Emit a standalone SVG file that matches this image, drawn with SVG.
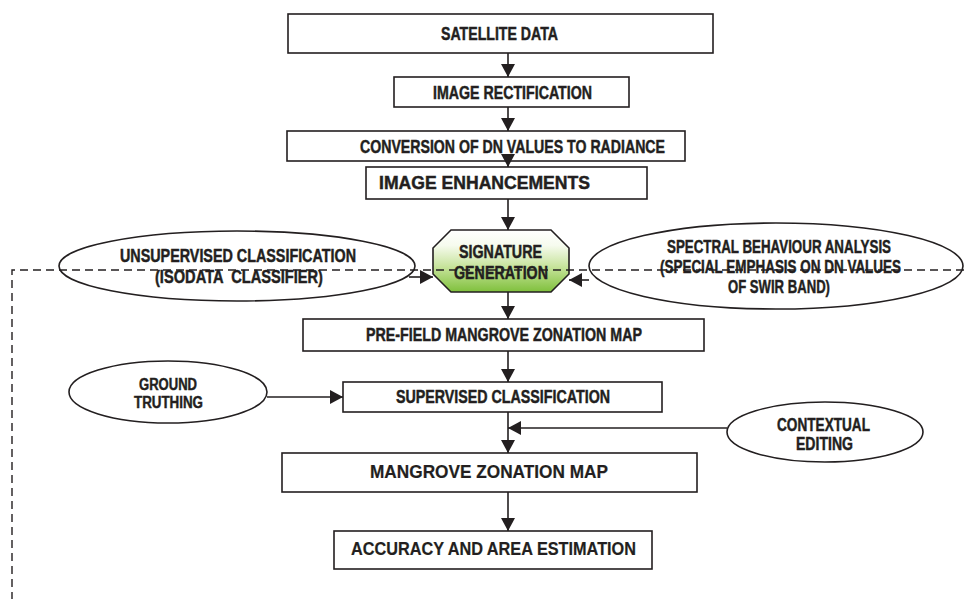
<svg xmlns="http://www.w3.org/2000/svg" width="964" height="599" viewBox="0 0 964 599">
<style>
.box{fill:#fff;stroke:#231f20;stroke-width:1.6}
.ell{fill:#fff;stroke:#231f20;stroke-width:1.6}
.t{font-family:"Liberation Sans",Arial,sans-serif;font-weight:bold;fill:#231f20;stroke:#231f20;stroke-width:0.45;font-size:17.5px}
.ts{font-size:16px}
.tw{font-family:"Liberation Sans",Arial,sans-serif;font-weight:bold;fill:#231f20;stroke:#231f20;stroke-width:0.2;font-size:17.5px}
.c{stroke:#231f20;stroke-width:1.6;fill:none}
.dash{stroke:#231f20;stroke-width:1.4;fill:none;stroke-dasharray:8 5}
</style>
<defs>
<marker id="ah" markerUnits="userSpaceOnUse" markerWidth="14" markerHeight="14" viewBox="0 0 14 14" refX="13" refY="7" orient="auto">
<path d="M0,0 L13,7 L0,14 Z" fill="#231f20"/>
</marker>
<linearGradient id="gr" x1="0" y1="0" x2="0" y2="1">
<stop offset="0" stop-color="#ffffff"/>
<stop offset="0.25" stop-color="#f6fbee"/>
<stop offset="0.6" stop-color="#c6e39a"/>
<stop offset="1" stop-color="#7fc03c"/>
</linearGradient>
</defs>
<g id="n-satellite"><rect class="box" x="288" y="14" width="425" height="39"/><text class="t" x="441" y="39.5" textLength="117" lengthAdjust="spacingAndGlyphs">SATELLITE DATA</text></g>
<g id="n-rectification"><rect class="box" x="394" y="77" width="235" height="30"/><text class="t" x="433" y="98.5" textLength="159" lengthAdjust="spacingAndGlyphs">IMAGE RECTIFICATION</text></g>
<g id="n-conversion"><rect class="box" x="287" y="131" width="398" height="30"/><text class="t" x="360" y="152.5" textLength="305" lengthAdjust="spacingAndGlyphs">CONVERSION OF DN VALUES TO RADIANCE</text></g>
<g id="n-enhancements"><rect class="box" x="366" y="167" width="281" height="32"/><text class="t" x="379" y="189" textLength="211" lengthAdjust="spacingAndGlyphs">IMAGE ENHANCEMENTS</text></g>
<g id="n-signature"><path d="M451,230 L551,230 L569,248 L569,274 L551,292 L451,292 L433,274 L433,248 Z" fill="url(#gr)" stroke="#231f20" stroke-width="1.6"/><text class="t" x="459" y="258" textLength="83" lengthAdjust="spacingAndGlyphs">SIGNATURE</text><text class="t" x="454" y="279" textLength="94" lengthAdjust="spacingAndGlyphs">GENERATION</text></g>
<g id="n-unsupervised"><ellipse class="ell" cx="237" cy="266" rx="178" ry="35"/><text class="t" x="120" y="262" textLength="236" lengthAdjust="spacingAndGlyphs">UNSUPERVISED CLASSIFICATION</text><text class="t" x="155" y="283" textLength="168" lengthAdjust="spacingAndGlyphs" xml:space="preserve">(ISODATA  CLASSIFIER)</text></g>
<g id="n-spectral"><ellipse class="ell" cx="776" cy="266" rx="187" ry="43"/><text class="t" x="667" y="253" textLength="224" lengthAdjust="spacingAndGlyphs">SPECTRAL BEHAVIOUR ANALYSIS</text><text class="t" x="660" y="273" textLength="241" lengthAdjust="spacingAndGlyphs">(SPECIAL EMPHASIS ON DN VALUES</text><text class="t" x="728" y="293" textLength="102" lengthAdjust="spacingAndGlyphs">OF SWIR BAND)</text></g>
<g id="n-prefield"><rect class="box" x="303" y="319" width="401" height="32"/><text class="t" x="366" y="340.5" textLength="276" lengthAdjust="spacingAndGlyphs">PRE-FIELD MANGROVE ZONATION MAP</text></g>
<g id="n-ground"><ellipse class="ell" cx="168" cy="392" rx="99" ry="31"/><text class="t ts" x="139" y="390" textLength="58" lengthAdjust="spacingAndGlyphs">GROUND</text><text class="t ts" x="134" y="408" textLength="69" lengthAdjust="spacingAndGlyphs">TRUTHING</text></g>
<g id="n-supervised"><rect class="box" x="343" y="382" width="319" height="30"/><text class="t" x="396" y="403" textLength="214" lengthAdjust="spacingAndGlyphs">SUPERVISED CLASSIFICATION</text></g>
<g id="n-contextual"><ellipse class="ell" cx="825" cy="432" rx="98" ry="30"/><text class="t" x="777" y="431" textLength="93" lengthAdjust="spacingAndGlyphs">CONTEXTUAL</text><text class="t" x="796" y="450" textLength="57" lengthAdjust="spacingAndGlyphs">EDITING</text></g>
<g id="n-mangrove"><rect class="box" x="282" y="453" width="415" height="39"/><text class="tw" x="370" y="478" textLength="238" lengthAdjust="spacingAndGlyphs">MANGROVE ZONATION MAP</text></g>
<g id="n-accuracy"><rect class="box" x="334" y="531" width="318" height="38"/><text class="tw" x="351" y="555" textLength="285" lengthAdjust="spacingAndGlyphs">ACCURACY AND AREA ESTIMATION</text></g>
<g id="connectors">
<path class="c" d="M508,53 V77" marker-end="url(#ah)"/>
<path class="c" d="M508,107 V131" marker-end="url(#ah)"/>
<path class="c" d="M508,158 V167" marker-end="url(#ah)"/>
<path class="c" d="M508,199 V230" marker-end="url(#ah)"/>
<path class="c" d="M508,292 V319" marker-end="url(#ah)"/>
<path class="c" d="M508,351 V382" marker-end="url(#ah)"/>
<path class="c" d="M508,412 V453" marker-end="url(#ah)"/>
<path class="c" d="M508,492 V531" marker-end="url(#ah)"/>
<path class="c" d="M409,277 H433" marker-end="url(#ah)"/>
<path class="c" d="M589,280 H569" marker-end="url(#ah)"/>
<path class="c" d="M267,397 H343" marker-end="url(#ah)"/>
<path class="c" d="M727,428 H508" marker-end="url(#ah)"/>
<path class="dash" d="M964,270 H12 V599"/>
</g>
</svg>
